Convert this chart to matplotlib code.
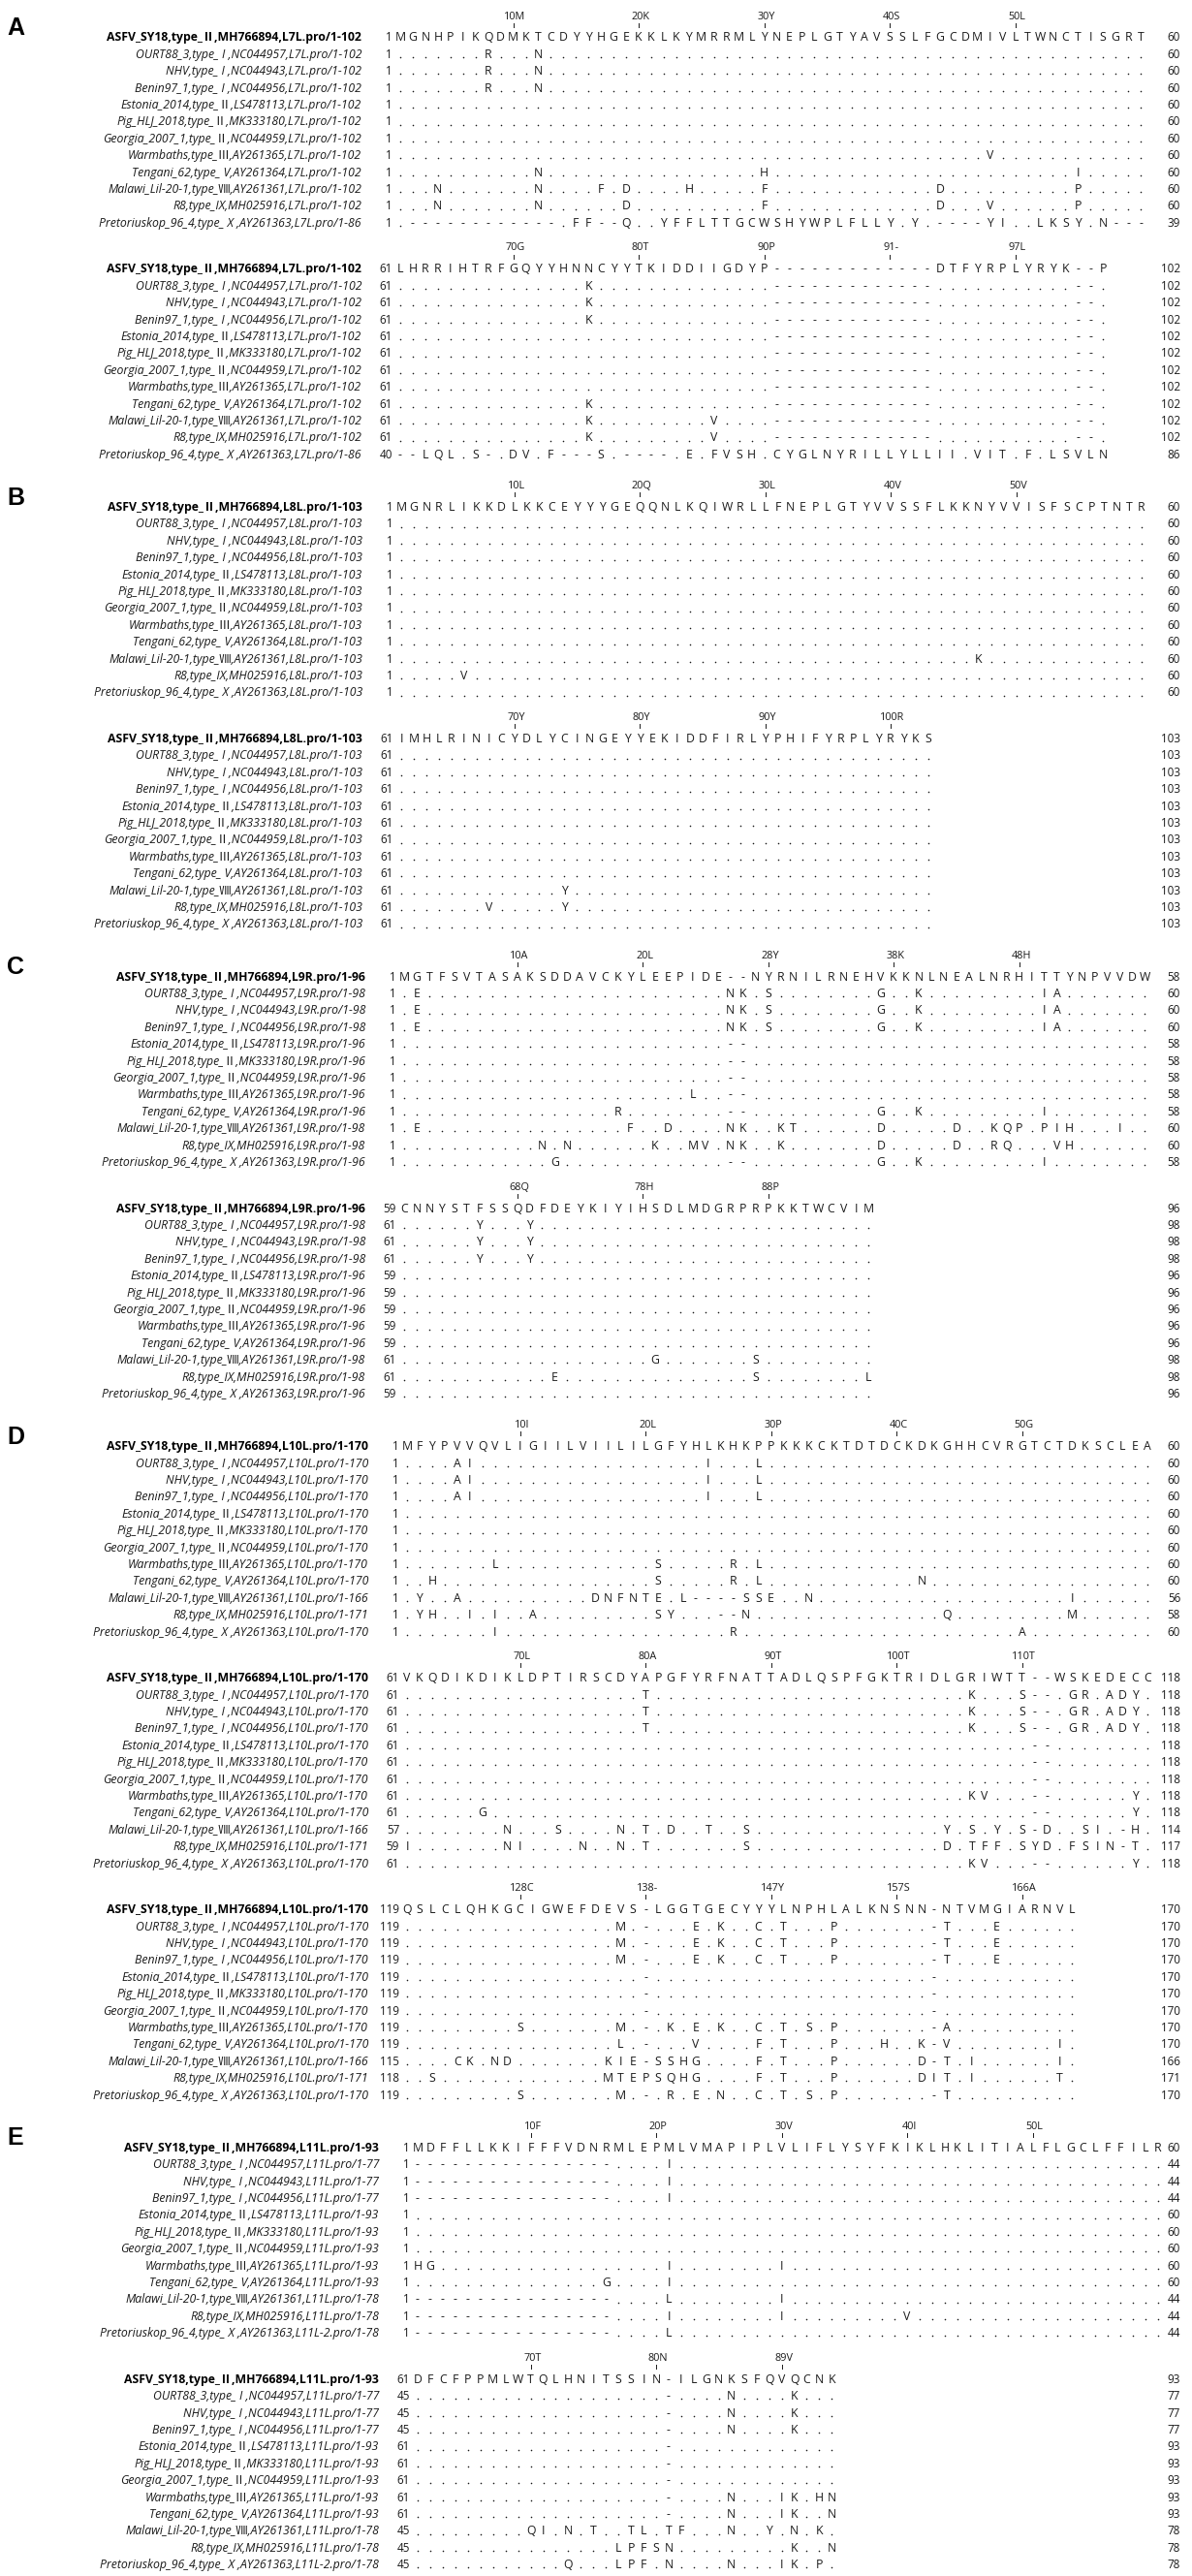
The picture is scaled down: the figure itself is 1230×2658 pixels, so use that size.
""" ASFV L7L-L11L protein alignments, Jalview-style figure """

import matplotlib
matplotlib.use("Agg")
import matplotlib.pyplot as plt

plt.rcParams['font.family'] = ['Open Sans', 'Noto Sans CJK KR', 'DejaVu Sans']

strains = ["ASFV_SY18", "OURT88_3", "NHV", "Benin97_1", "Estonia_2014", "Pig_HLJ_2018",
           "Georgia_2007_1", "Warmbaths", "Tengani_62", "Malawi_Lil-20-1", "R8",
           "Pretoriuskop_96_4"]
genotypes = ["type_Ⅱ", "type_ I ", "type_ I ", "type_ I ", "type_Ⅱ", "type_Ⅱ", "type_Ⅱ",
             "type_Ⅲ", "type_ V", "type_Ⅷ", "type_IX", "type_ X "]
accessions = ["MH766894", "NC044957", "NC044943", "NC044956", "LS478113", "MK333180",
              "NC044959", "AY261365", "AY261364", "AY261361", "MH025916", "AY261363"]

# row specs: "col:letters" changes on a dotted row (col is 1-based in the block),
# "=" means the whole row is written out
# ---- A: L7L
A_refs = ["MGNHPIKQDMKTCDYYHGEKKLKYMRRMLYNEPLGTYAVSSLFGCDMIVLTWNCTISGRT",
          "LHRRIHTRFGQYYHNNCYYTKIDDIIGDYP-------------DTFYRPLYRYK--P"]
gapA = "31:------------- 55:--"
A_rows = [
    ["8:R 12:N", "8:R 12:N", "8:R 12:N", "", "", "", "48:V", "12:N 30:H 55:I",
     "4:N 12:N 17:F 19:D 24:H 30:F 44:D 55:P",
     "4:N 12:N 19:D 30:F 44:D 48:V 55:P",
     "=.------------.FF--Q..YFFLTTGCWSHYWPLFLLY.Y.----YI..LKSY.N---"],
    [gapA + " 16:K", gapA + " 16:K", gapA + " 16:K", gapA, gapA, gapA, gapA,
     gapA + " 16:K", gapA + " 16:K 26:V", gapA + " 16:K 26:V",
     "=--LQL.S-.DV.F---S.----.E.FVSH.CYGLNYRILLYLLII.VIT.F.LSVLN"],
]
A_ticks = [["10M", "20K", "30Y", "40S", "50L"], ["70G", "80T", "90P", "91-", "97L"]]

# ---- B: L8L
B_refs = ["MGNRLIKKDLKKCEYYYGEQQNLKQIWRLLFNEPLGTYVVSSFLKKNYVVISFSCPTNTR",
          "IMHLRINICYDLYCINGEYYEKIDDFIRLYPHIFYRPLYRYKS"]
B_rows = [
    ["", "", "", "", "", "", "", "", "47:K", "6:V", ""],
    ["", "", "", "", "", "", "", "", "14:Y", "8:V 14:Y", ""],
]
B_ticks = [["10L", "20Q", "30L", "40V", "50V"], ["70Y", "80Y", "90Y", "100R"]]

# ---- C: L9R
C_refs = ["MGTFSVTASAKSDDAVCKYLEEPIDE--NYRNILRNEHVKKNLNEALNRHITTYNPVVDW",
          "CNNYSTFSSQDFDEYKIYIHSDLMDGRPRPKKTWCVIM"]
C_rows = [
    ["2:E 27:NK 30:S 39:G 42:K 52:IA", "2:E 27:NK 30:S 39:G 42:K 52:IA",
     "2:E 27:NK 30:S 39:G 42:K 52:IA", "27:--", "27:--", "27:--", "24:L 27:--",
     "18:R 27:-- 39:G 42:K 52:I",
     "2:E 19:F 22:D 27:NK 31:KT 39:D 45:D 48:KQP 52:PIH 58:I",
     "12:N 14:N 21:K 24:MV 27:NK 31:K 39:D 45:D 48:RQ 53:VH",
     "13:G 27:-- 39:G 42:K 52:I"],
    ["7:Y 11:Y", "7:Y 11:Y", "7:Y 11:Y", "", "", "", "", "",
     "21:G 29:S", "13:E 29:S 38:L", ""],
]
C_ticks = [["10A", "20L", "28Y", "38K", "48H"], ["68Q", "78H", "88P"]]

# ---- D: L10L
D_refs = ["MFYPVVQVLIGIILVIILILGFYHLKHKPPKKKCKTDTDCKDKGHHCVRGTCTDKSCLEA",
          "VKQDIKDIKLDPTIRSCDYAPGFYRFNATTADLQSPFGKTRIDLGRIWTT--WSKEDECC",
          "QSLCLQHKGCIGWEFDEVS-LGGTGECYYYLNPHLALKNSNN-NTVMGIARNVL"]
D_rows = [
    ["5:AI 25:I 29:L", "5:AI 25:I 29:L", "5:AI 25:I 29:L", "", "", "",
     "8:L 21:S 27:R 29:L", "3:H 21:S 27:R 29:L 42:N",
     "2:Y 5:A 16:DNFNTE 23:L 24:---- 28:SSE 33:N 54:I",
     "2:YH 6:I 8:I 11:A 21:SY 26:-- 28:N 44:Q 54:M",
     "8:I 27:R 50:A"],
    ["20:T 46:K 50:S-- 54:GR 57:ADY", "20:T 46:K 50:S-- 54:GR 57:ADY",
     "20:T 46:K 50:S-- 54:GR 57:ADY", "51:--", "51:--", "51:--",
     "46:KV 51:-- 59:Y", "7:G 51:-- 59:Y",
     "9:N 13:S 18:N 20:T 22:D 25:T 28:S 44:Y 46:S 48:Y 50:S-D 55:SI 58:-H",
     "1:I 9:NI 15:N 18:N 20:T 28:S 44:D 46:TFF 50:SYD 54:FSIN 58:-T",
     "46:KV 51:-- 59:Y"],
    ["18:M 20:- 24:E 26:K 29:C 31:T 35:P 43:-T 48:E",
     "18:M 20:- 24:E 26:K 29:C 31:T 35:P 43:-T 48:E",
     "18:M 20:- 24:E 26:K 29:C 31:T 35:P 43:-T 48:E",
     "20:- 43:-", "20:- 43:-", "20:- 43:-",
     "10:S 18:M 20:- 22:K 24:E 26:K 29:C 31:T 33:S 35:P 43:-A",
     "18:L 20:- 24:V 29:F 31:T 35:P 39:H 42:K-V 53:I",
     "5:CK 8:ND 17:KIE-SSHG 29:F 31:T 35:P 42:D-T 46:I 53:I",
     "3:S 17:MTEPSQHG 29:F 31:T 35:P 42:DIT 46:I 53:T",
     "10:S 18:M 20:- 22:R 24:E 26:N 29:C 31:T 33:S 35:P 43:-T"],
]
D_ticks = [["10I", "20L", "30P", "40C", "50G"], ["70L", "80A", "90T", "100T", "110T"],
           ["128C", "138-", "147Y", "157S", "166A"]]

# ---- E: L11L
E_refs = ["MDFFLLKKIFFFVDNRMLEPMLVMAPIPLVLIFLYSYFKIKLHKLITIALFLGCLFFILR",
          "DFCFPPMLWTQLHNITSSIN-ILGNKSFQVQCNK"]
E_rows = [
    ["1:---------------- 21:I", "1:---------------- 21:I", "1:---------------- 21:I",
     "", "", "", "1:HG 21:I 30:I", "16:G 21:I",
     "1:---------------- 21:L 30:I", "1:---------------- 21:I 30:I 40:V",
     "1:---------------- 21:L"],
    ["21:- 26:N 31:K", "21:- 26:N 31:K", "21:- 26:N 31:K", "21:-", "21:-", "21:-",
     "21:- 26:N 30:IK 33:HN", "21:- 26:N 30:IK 34:N",
     "10:QI 13:N 15:T 18:TL 21:TF 26:N 29:Y 31:N 33:K",
     "17:LPFSN 31:K 34:N", "13:Q 17:LPF 21:N 26:N 30:IK 33:P"],
]
E_ticks = [["10F", "20P", "30V", "40I", "50L"], ["70T", "80N", "89V"]]

panels = [("A", ["L7L"] * 12, A_refs, A_rows, A_ticks),
          ("B", ["L8L"] * 12, B_refs, B_rows, B_ticks),
          ("C", ["L9R"] * 12, C_refs, C_rows, C_ticks),
          ("D", ["L10L"] * 12, D_refs, D_rows, D_ticks),
          ("E", ["L11L"] * 11 + ["L11L-2"], E_refs, E_rows, E_ticks)]

# layout (pixels)
W, H = 1230, 2658
DX = 12.95          # column pitch
ROW = 17.4          # row pitch
first_col = {"A": 413, "B": 414, "C": 417, "D": 420, "E": 431}
NUM_RIGHT = 1218
BLOCK_STEP = 239
PANEL_EXTRA = 6.6
FS = 8.8
INK = '#1a1a1a'


def build(ref, spec):
    if spec.startswith("="):
        return spec[1:]
    s = ["."] * len(ref)
    for tok in spec.split():
        pos, chars = tok.split(":")
        p = int(pos) - 1
        s[p:p + len(chars)] = list(chars)
    return "".join(s)


fig = plt.figure(figsize=(W / 100, H / 100), dpi=100)
ax = fig.add_axes([0, 0, 1, 1])
ax.set_xlim(0, W)
ax.set_ylim(H, 0)
ax.axis('off')

dots_x, dots_y = [], []
y0 = 38
for name, genes, refs, rows, ticks in panels:
    x1 = first_col[name]
    blocks = [[ref] + [build(ref, sp) for sp in rws] for ref, rws in zip(refs, rows)]
    totals = [sum(sum(c != '-' for c in blk[r]) for blk in blocks) for r in range(12)]
    counts = [0] * 12
    for b, seqs in enumerate(blocks):
        if b == 0:
            ax.text(7, y0 - 9, name, fontsize=18, fontweight='bold', ha='left',
                    va='center', color='black', family=['Liberation Sans', 'DejaVu Sans'])
        for k, lab in enumerate(ticks[b]):
            xc = x1 + (10 * (k + 1) - 1) * DX
            ax.text(xc + 2, y0 - 21, lab, fontsize=7.8, ha='center', va='center', color=INK)
            ax.plot([xc, xc], [y0 - 14.5, y0 - 10.5], color=INK, lw=0.7)
        for r, s in enumerate(seqs):
            y = y0 + r * ROW
            yb = y + 4.4
            n_res = sum(c != '-' for c in s)
            start = counts[r] + 1
            counts[r] += n_res
            label = f"{strains[r]},{genotypes[r]},{accessions[r]},{genes[r]}.pro/1-{totals[r]}"
            if r == 0:
                ax.text(x1 - 40, yb, label, fontsize=FS, fontweight='bold', ha='right',
                        va='baseline', color='black')
            else:
                ax.text(x1 - 40, yb, label, fontsize=FS, style='italic', ha='right',
                        va='baseline', color=INK)
            ax.text(x1 - 8, yb, str(start), fontsize=8.4, ha='right', va='baseline', color=INK)
            ax.text(NUM_RIGHT, yb, str(counts[r]), fontsize=8.4, ha='right', va='baseline',
                    color=INK)
            for j, c in enumerate(s):
                xc = x1 + j * DX
                if c == '.':
                    dots_x.append(xc)
                    dots_y.append(yb - 0.9)
                else:
                    ax.text(xc, yb, c, fontsize=FS, ha='center', va='baseline', color=INK)
        y0 += BLOCK_STEP
    y0 += PANEL_EXTRA

ax.scatter(dots_x, dots_y, s=1.3, color=INK, marker='o', linewidths=0)

fig.savefig("out.png", dpi=100)
